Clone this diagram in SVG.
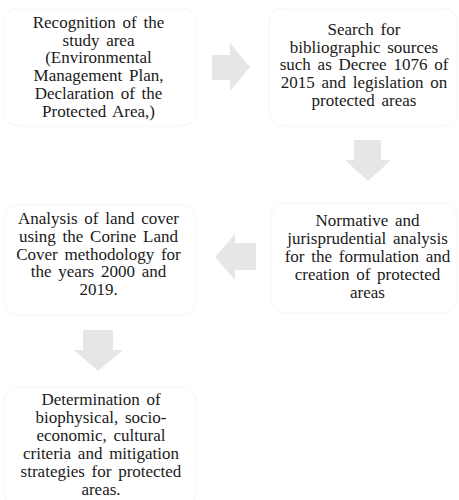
<svg xmlns="http://www.w3.org/2000/svg" width="459" height="500" viewBox="0 0 459 500">
<style>
.box{fill:#ffffff;stroke:#f6f6f6;stroke-width:1}
.t{font-family:"Liberation Serif","Times New Roman",serif;font-size:17px;fill:#1a1a1a;text-anchor:middle;word-spacing:2.5px}
.arr{fill:#e6e6e6}
</style>
<rect width="459" height="500" fill="#ffffff"/>
<g id="connectors">
<polygon class="arr" points="212,55 230,55 230,43 250,67 230,91 230,80 212,80"/>
<polygon class="arr" points="354,140 381,140 381,160 391,160 368,181 345,160 354,160"/>
<polygon class="arr" points="256,243 235,243 235,234 215,257 235,280 235,270 256,270"/>
<polygon class="arr" points="83,330 113,330 113,350 123,350 98,371 74,350 83,350"/>
</g>
<g id="node1">
<rect class="box" x="4" y="8" width="192" height="118" rx="14"/>
<text class="t" x="98.5"><tspan x="98.5" y="28">Recognition of the</tspan><tspan x="98.5" y="45.7">study area</tspan><tspan x="98.5" y="63.4">(Environmental</tspan><tspan x="98.5" y="81">Management Plan,</tspan><tspan x="98.5" y="98.8">Declaration of the</tspan><tspan x="98.5" y="116.5">Protected Area,)</tspan></text>
</g>
<g id="node2">
<rect class="box" x="269" y="8" width="188" height="118" rx="14"/>
<text class="t" x="364"><tspan x="364" y="35">Search for</tspan><tspan x="364" y="52.5">bibliographic sources</tspan><tspan x="364" y="70">such as Decree 1076 of</tspan><tspan x="364" y="88">2015 and legislation on</tspan><tspan x="364" y="106">protected areas</tspan></text>
</g>
<g id="node3">
<rect class="box" x="271" y="203" width="186" height="110" rx="14"/>
<text class="t" x="367.5"><tspan x="367.5" y="226">Normative and</tspan><tspan x="367.5" y="244">jurisprudential analysis</tspan><tspan x="367.5" y="262">for the formulation and</tspan><tspan x="367.5" y="280">creation of protected</tspan><tspan x="367.5" y="298">areas</tspan></text>
</g>
<g id="node4">
<rect class="box" x="4" y="205" width="192" height="110" rx="14"/>
<text class="t" x="98.5"><tspan x="98.5" y="224">Analysis of land cover</tspan><tspan x="98.5" y="242">using the Corine Land</tspan><tspan x="98.5" y="259.5">Cover methodology for</tspan><tspan x="98.5" y="277">the years 2000 and</tspan><tspan x="98.5" y="295">2019.</tspan></text>
</g>
<g id="node5">
<rect class="box" x="4" y="387" width="192" height="120" rx="14"/>
<text class="t" x="101"><tspan x="101" y="405">Determination of</tspan><tspan x="101" y="423">biophysical, socio-</tspan><tspan x="101" y="441">economic, cultural</tspan><tspan x="101" y="459">criteria and mitigation</tspan><tspan x="101" y="477">strategies for protected</tspan><tspan x="101" y="495">areas.</tspan></text>
</g>
</svg>
